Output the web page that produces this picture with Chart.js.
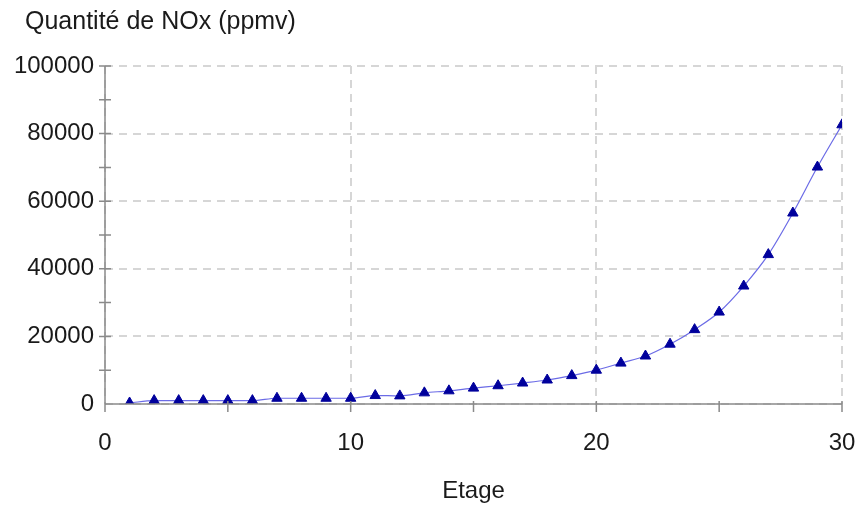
<!DOCTYPE html>
<html>
<head>
<meta charset="utf-8">
<script src="https://cdn.jsdelivr.net/npm/chart.js@4/dist/chart.umd.min.js"></script>
<style>
  html, body { margin: 0; padding: 0; background: #fff; }
  #wrap { width: 860px; height: 508px; }
</style>
</head>
<body>
<div id="wrap"><canvas id="nox"></canvas></div>
<script>
// etage (stage number) and NOx quantity in ppmv
var etages = [1, 2, 3, 4, 5, 6, 7, 8, 9, 10, 11, 12, 13, 14, 15,
              16, 17, 18, 19, 20, 21, 22, 23, 24, 25, 26, 27, 28, 29, 30]
var noxPpmv = [300, 1000, 1000, 1000, 1000, 1000, 1700, 1700, 1700, 1700,
               2500, 2400, 3300, 3900, 4700, 5400, 6200, 7100, 8400, 10000,
               12100, 14200, 17700, 22000, 27200, 34900, 44200, 56500, 70100, 82600]
var xTickLabels = [0, 10, 20, 30]
var yTickLabels = [0, 20000, 40000, 60000, 80000, 100000]
var chartTitle = 'Quantité de NOx (ppmv)'

var axisColor = '#8a8a8a'
var textColor = '#1a1a1a'
var font = { family: "'Liberation Sans', Arial, sans-serif", size: 24 }

// title sits left of the y labels' start, so draw it by hand
var topTitle = {
    id: 'topTitle',
    afterDraw(chart) {
        var ctx = chart.ctx
        ctx.save()
        ctx.fillStyle = textColor
        ctx.font = '25px ' + font.family
        ctx.textBaseline = 'middle'
        ctx.fillText(chartTitle, 25, 22)
        ctx.restore()
    }
}

// axis lines with tick marks crossing them (minor ones included)
var axisTicks = {
    id: 'axisTicks',
    afterDatasetsDraw(chart) {
        var ctx = chart.ctx
        var x = chart.scales.x, y = chart.scales.y
        var x0 = x.getPixelForValue(0), y0 = y.getPixelForValue(0)
        ctx.save()
        ctx.strokeStyle = axisColor
        ctx.lineWidth = 1.5
        ctx.beginPath()
        ctx.moveTo(x0, y.getPixelForValue(100000))
        ctx.lineTo(x0, y0 + 8)
        ctx.moveTo(x0, y0)
        ctx.lineTo(x.getPixelForValue(30), y0)
        for (var v = 10000; v <= 100000; v += 10000) {
            var py = y.getPixelForValue(v)
            ctx.moveTo(x0 - 6, py)
            ctx.lineTo(x0 + 6, py)
        }
        for (var e = 5; e <= 30; e += 5) {
            var px = x.getPixelForValue(e)
            ctx.moveTo(px, y0 - 3)
            ctx.lineTo(px, y0 + 8)
        }
        ctx.stroke()
        ctx.restore()
    }
}

window.onload = function() {
    var points = etages.map((e, i) => ({ x: e, y: noxPpmv[i] }))
    var ctx = document.getElementById('nox').getContext('2d')
    new Chart(ctx, {
        type: 'line',
        data: {
            datasets: [{
                label: 'NOx',
                data: points,
                borderColor: '#6b6be6',
                borderWidth: 1.2,
                pointStyle: 'triangle',
                pointRadius: 6,
                pointBackgroundColor: '#00009c',
                pointBorderColor: '#00009c',
                pointBorderWidth: 1,
                cubicInterpolationMode: 'monotone'
            }]
        },
        options: {
            responsive: true,
            maintainAspectRatio: false,
            animation: false,
            layout: { padding: { left: 10, right: 18, top: 66, bottom: 0 } },
            plugins: {
                legend: { display: false },
                tooltip: { enabled: false },
                title: { display: false }
            },
            scales: {
                x: {
                    type: 'linear',
                    min: 0,
                    max: 30,
                    afterFit: s => { s.height = 104; s.paddingLeft = 0; s.paddingRight = 0 },
                    afterBuildTicks: s => { s.ticks = xTickLabels.map(v => ({ value: v })) },
                    ticks: { color: textColor, font: font, padding: 25, callback: v => String(v) },
                    grid: { color: '#d6d6d6', lineWidth: 2, drawTicks: false },
                    border: { display: false, dash: [8, 6] },
                    title: {
                        display: true,
                        text: 'Etage',
                        color: textColor,
                        font: font,
                        padding: { top: 0, bottom: 2 }
                    }
                },
                y: {
                    min: 0,
                    max: 100000,
                    afterFit: s => { s.width = 95; s.paddingTop = 0; s.paddingBottom = 0 },
                    afterBuildTicks: s => { s.ticks = yTickLabels.map(v => ({ value: v })) },
                    ticks: { color: textColor, font: font, padding: 11, callback: v => String(v) },
                    grid: { color: '#d6d6d6', lineWidth: 2, drawTicks: false },
                    border: { display: false, dash: [8, 6] }
                }
            }
        },
        plugins: [axisTicks, topTitle]
    })
}
</script>
</body>
</html>
